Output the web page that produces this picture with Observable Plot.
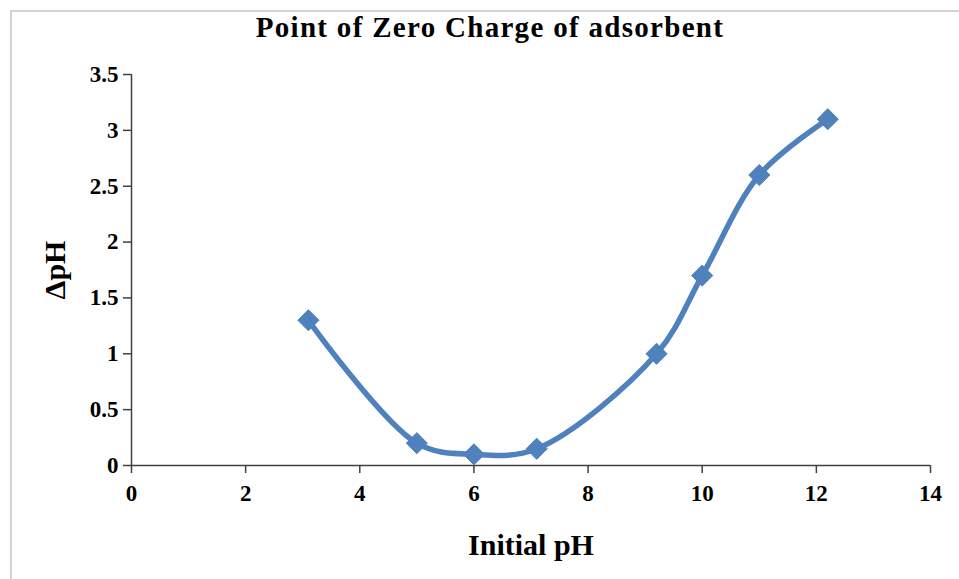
<!DOCTYPE html>
<html>
<head>
<meta charset="utf-8">
<script src="https://cdn.jsdelivr.net/npm/d3@7"></script>
<script src="https://cdn.jsdelivr.net/npm/@observablehq/plot@0.6"></script>
<style>
  html, body { margin: 0; padding: 0; background: #fff; }
  #wrap { position: relative; width: 959px; height: 579px; overflow: hidden; background: #fff;
          font-family: "Liberation Serif", "Times New Roman", serif; }
  #frame { position: absolute; left: 10px; top: 10px; width: 960px; height: 580px;
           border-top: 2px solid #d4d4d4; border-left: 2px solid #d4d4d4; box-sizing: border-box; }
  #title { position: absolute; left: 0; top: 11px; width: 980px; text-align: center;
           font-weight: bold; font-size: 29px; letter-spacing: 1.3px; color: #000; white-space: nowrap; }
  #chart { position: absolute; left: 0; top: 50px; }
</style>
</head>
<body>
<div id="wrap">
  <div id="frame"></div>
  <div id="title">Point of Zero Charge of adsorbent</div>
  <div id="chart"></div>
</div>
<script>
const initialPH = [3.1, 5, 6, 7.1, 9.2, 10, 11, 12.2];
const deltaPH   = [1.3, 0.2, 0.1, 0.15, 1.0, 1.7, 2.6, 3.1];
const xTicks = [0, 2, 4, 6, 8, 10, 12, 14];
const yTicks = [0, 0.5, 1, 1.5, 2, 2.5, 3, 3.5];
const xTitle = "Initial pH";
const yTitle = "ΔpH";

const data = initialPH.map((x, i) => ({x, y: deltaPH[i]}));
const axisColor = "#404040";
const blue = "#4F81BD";
const serif = "'Liberation Serif', 'Times New Roman', serif";

const chart = Plot.plot({
  width: 959,
  height: 520,
  marginLeft: 131,
  marginRight: 29,
  marginTop: 24,
  marginBottom: 105,
  style: { fontFamily: serif, fontWeight: "bold", fontSize: "23px", color: "#000", background: "transparent" },
  x: { domain: [0, 14] },
  y: { domain: [0, 3.5] },
  marks: [
    Plot.axisX({ ticks: xTicks, tickSize: 8, tickPadding: 11, tickFormat: d => String(d),
                 stroke: axisColor, strokeWidth: 1.5, fill: "#000", fontFamily: serif, fontSize: 23, fontWeight: "bold",
                 label: null }),
    Plot.axisY({ ticks: yTicks, tickSize: 8, tickPadding: 5, tickFormat: d => String(d),
                 stroke: axisColor, strokeWidth: 1.5, fill: "#000", fontFamily: serif, fontSize: 23, fontWeight: "bold",
                 label: null }),
    Plot.ruleY([0], { stroke: axisColor, strokeWidth: 1.5 }),
    Plot.ruleX([0], { stroke: axisColor, strokeWidth: 1.5, y1: 0, y2: 3.5 }),
    Plot.text([xTitle], { frameAnchor: "bottom", textAnchor: "middle", lineAnchor: "bottom", dy: 89, fontSize: 30, fontWeight: "bold", fill: "#000", fontFamily: serif }),
    Plot.text([yTitle], { frameAnchor: "left", textAnchor: "middle", lineAnchor: "middle", dx: -76, rotate: -90, fontSize: 30, fontWeight: "bold", fill: "#000", fontFamily: serif }),
    Plot.line(data, { x: "x", y: "y", curve: "catmull-rom", stroke: blue, strokeWidth: 5.5 }),
    Plot.dot(data, { x: "x", y: "y", symbol: "diamond2", r: 9.5, fill: blue, stroke: blue, strokeWidth: 1 })
  ]
});
document.getElementById("chart").appendChild(chart);
</script>
</body>
</html>
